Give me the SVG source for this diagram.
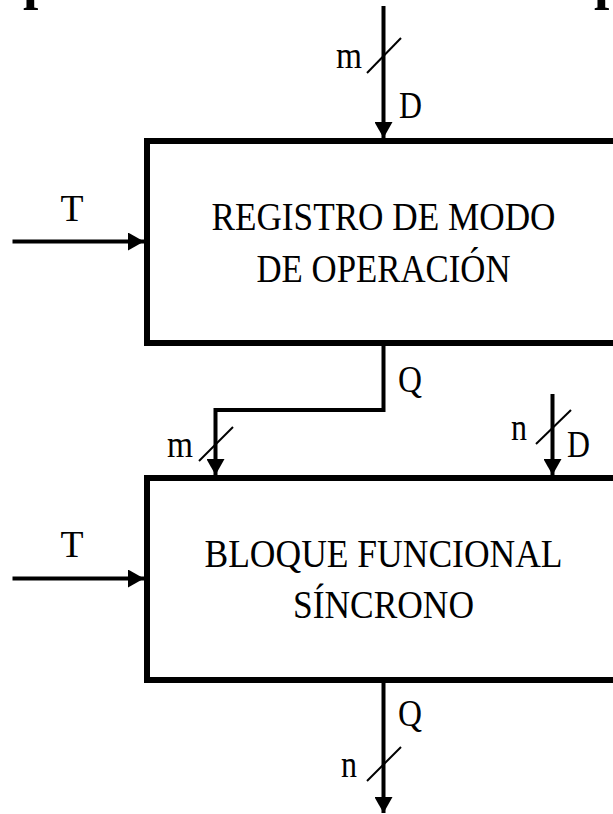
<svg xmlns="http://www.w3.org/2000/svg" width="613" height="814" viewBox="0 0 613 814">
<style>
.box{fill:#fff;stroke:#000;stroke-width:6}
.wire{fill:none;stroke:#000;stroke-width:4}
.bus{fill:none;stroke:#000;stroke-width:2}
.lbl{font-family:"Liberation Serif","Times New Roman",serif;font-size:37px;fill:#000}
.ttl{font-family:"Liberation Serif","Times New Roman",serif;font-size:39px;fill:#000;text-anchor:middle}
.frag{font-family:"Liberation Serif","Times New Roman",serif;font-size:55px;font-weight:bold;fill:#000}
</style>
<defs>
<marker id="ah" markerUnits="userSpaceOnUse" markerWidth="18" markerHeight="18" refX="16" refY="9" orient="auto">
<path d="M0,0 L16,9 L0,18 Z" fill="#000"/>
</marker>
</defs>
<rect width="613" height="814" fill="#fff"/>
<text class="frag" x="23" y="-2">p</text>
<text class="frag" x="594" y="-2">p</text>
<g id="registro">
<rect class="box" x="147" y="141" width="520" height="202"/>
<text class="ttl" x="383.5" y="230" textLength="344" lengthAdjust="spacingAndGlyphs">REGISTRO DE MODO</text>
<text class="ttl" x="383.5" y="282" textLength="254" lengthAdjust="spacingAndGlyphs">DE OPERACIÓN</text>
</g>
<g id="bloque">
<rect class="box" x="147" y="478" width="520" height="202"/>
<text class="ttl" x="383.5" y="567" textLength="358" lengthAdjust="spacingAndGlyphs">BLOQUE FUNCIONAL</text>
<text class="ttl" x="383.5" y="618" textLength="181" lengthAdjust="spacingAndGlyphs">SÍNCRONO</text>
</g>
<g id="connectors">
<path class="wire" d="M383.5,6 V138" marker-end="url(#ah)"/>
<line class="bus" x1="367" y1="73" x2="401" y2="38"/>
<path class="wire" d="M12.5,241.5 H144" marker-end="url(#ah)"/>
<path class="wire" d="M383.5,343 V410 H215.5 V475" marker-end="url(#ah)"/>
<line class="bus" x1="199" y1="461" x2="233" y2="427"/>
<path class="wire" d="M552.5,394 V475" marker-end="url(#ah)"/>
<line class="bus" x1="536" y1="444" x2="571" y2="410"/>
<path class="wire" d="M12.5,578.5 H144" marker-end="url(#ah)"/>
<path class="wire" d="M383.5,680 V813" marker-end="url(#ah)"/>
<line class="bus" x1="367" y1="781" x2="401" y2="747"/>
</g>
<g id="labels">
<text class="lbl" x="336" y="68" textLength="26" lengthAdjust="spacingAndGlyphs">m</text>
<text class="lbl" x="399" y="118" textLength="23" lengthAdjust="spacingAndGlyphs">D</text>
<text class="lbl" x="60.5" y="221" textLength="23" lengthAdjust="spacingAndGlyphs">T</text>
<text class="lbl" x="398" y="392" textLength="24" lengthAdjust="spacingAndGlyphs">Q</text>
<text class="lbl" x="167" y="457" textLength="26" lengthAdjust="spacingAndGlyphs">m</text>
<text class="lbl" x="511" y="440" textLength="16" lengthAdjust="spacingAndGlyphs">n</text>
<text class="lbl" x="567" y="457" textLength="23" lengthAdjust="spacingAndGlyphs">D</text>
<text class="lbl" x="60.5" y="557" textLength="23" lengthAdjust="spacingAndGlyphs">T</text>
<text class="lbl" x="398" y="726" textLength="24" lengthAdjust="spacingAndGlyphs">Q</text>
<text class="lbl" x="341" y="777" textLength="16" lengthAdjust="spacingAndGlyphs">n</text>
</g>
</svg>
